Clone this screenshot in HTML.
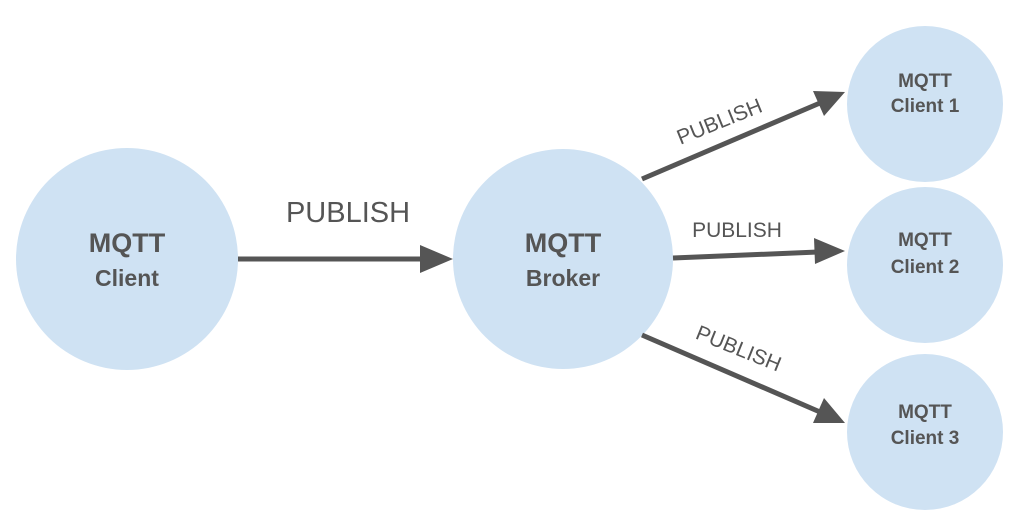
<!DOCTYPE html>
<html><head><style>body{margin:0;background:#fff}svg{display:block}</style></head><body>
<svg width="1024" height="519" viewBox="0 0 1024 519" font-family="Liberation Sans, sans-serif">
<g fill="#cfe2f3">
<circle cx="127" cy="259" r="111"/>
<circle cx="563" cy="259" r="110"/>
<circle cx="925" cy="104" r="78"/>
<circle cx="925" cy="265" r="78"/>
<circle cx="925" cy="432" r="78"/>
</g>
<g stroke="#555" stroke-width="5">
<line x1="238" y1="259" x2="425" y2="259"/>
<line x1="642" y1="179" x2="820" y2="103"/>
<line x1="673" y1="258" x2="818" y2="252"/>
<line x1="642" y1="335" x2="820" y2="412"/>
</g>
<g fill="#555">
<polygon points="453,259 420,245 420,273"/>
<polygon points="845,92 813,91 824,116"/>
<polygon points="845,251 814,238 815,264"/>
<polygon points="845,423 824,398 813,423"/>
</g>
<g fill="#555" font-weight="bold" text-anchor="middle">
<text x="127" y="252" font-size="27">MQTT</text>
<text x="127" y="286" font-size="23">Client</text>
<text x="563" y="252" font-size="27">MQTT</text>
<text x="563" y="286" font-size="23">Broker</text>
<text x="925" y="87" font-size="19">MQTT</text>
<text x="925" y="112" font-size="19">Client 1</text>
<text x="925" y="246" font-size="19">MQTT</text>
<text x="925" y="273" font-size="19">Client 2</text>
<text x="925" y="418" font-size="19">MQTT</text>
<text x="925" y="444" font-size="19">Client 3</text>
</g>
<g fill="#555" text-anchor="middle">
<text x="348" y="222" font-size="29">PUBLISH</text>
<text x="737" y="237" font-size="21">PUBLISH</text>
<text x="0" y="0" font-size="21" transform="translate(722,128) rotate(-22)">PUBLISH</text>
<text x="0" y="0" font-size="21" transform="translate(736,355) rotate(22)">PUBLISH</text>
</g>
</svg>
</body></html>
